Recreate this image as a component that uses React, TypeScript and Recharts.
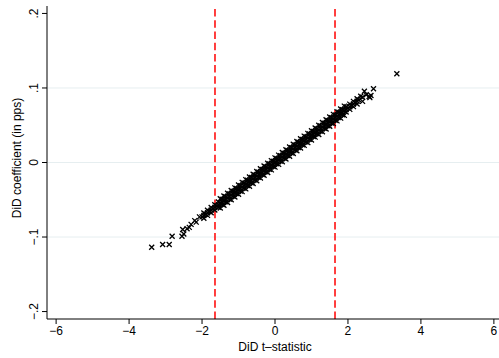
import { ScatterChart, Scatter, XAxis, YAxis, ReferenceLine } from "recharts";

// dense band: centre rows
const midT = [-2.0,-1.9,-1.8,-1.7,-1.6,-1.5,-1.4,-1.3,-1.2,-1.1,-1.0,-0.9,-0.8,-0.7,-0.6,-0.5,-0.4,-0.3,-0.2,-0.1,0.0,0.1,0.2,0.3,0.4,0.5,0.6,0.7,0.8,0.9,1.0,1.1,1.2,1.3,1.4,1.5,1.6,1.7,1.8,1.9,2.0,2.1,2.2,2.3,2.4];
const midB = [-0.0730,-0.0694,-0.0657,-0.0621,-0.0584,-0.0548,-0.0511,-0.0475,-0.0438,-0.0402,-0.0365,-0.0329,-0.0292,-0.0256,-0.0219,-0.0183,-0.0146,-0.0110,-0.0073,-0.0037,0.0000,0.0037,0.0073,0.0110,0.0146,0.0183,0.0219,0.0256,0.0292,0.0329,0.0365,0.0402,0.0438,0.0475,0.0511,0.0548,0.0584,0.0621,0.0657,0.0694,0.0730,0.0767,0.0803,0.0840,0.0876];

// rows in between, upper and lower edges of the band
const edgeT = [-1.95,-1.85,-1.75,-1.65,-1.55,-1.45,-1.35,-1.25,-1.15,-1.05,-0.95,-0.85,-0.75,-0.65,-0.55,-0.45,-0.35,-0.25,-0.15,-0.05,0.05,0.15,0.25,0.35,0.45,0.55,0.65,0.75,0.85,0.95,1.05,1.15,1.25,1.35,1.45,1.55,1.65,1.75,1.85,1.95,2.05,2.15,2.25];
const mid2B = [-0.0712,-0.0675,-0.0639,-0.0602,-0.0566,-0.0529,-0.0493,-0.0456,-0.0420,-0.0383,-0.0347,-0.0310,-0.0274,-0.0237,-0.0201,-0.0164,-0.0128,-0.0091,-0.0055,-0.0018,0.0018,0.0055,0.0091,0.0128,0.0164,0.0201,0.0237,0.0274,0.0310,0.0347,0.0383,0.0420,0.0456,0.0493,0.0529,0.0566,0.0602,0.0639,0.0675,0.0712,0.0748,0.0785,0.0821];
const upB = [-0.0677,-0.0640,-0.0604,-0.0567,-0.0531,-0.0494,-0.0458,-0.0421,-0.0385,-0.0348,-0.0312,-0.0275,-0.0239,-0.0202,-0.0166,-0.0129,-0.0093,-0.0056,-0.0020,0.0017,0.0053,0.0090,0.0126,0.0163,0.0199,0.0236,0.0272,0.0309,0.0345,0.0382,0.0418,0.0455,0.0491,0.0528,0.0564,0.0601,0.0637,0.0674,0.0710,0.0747,0.0783,0.0820,0.0856];
const lowB = [-0.0747,-0.0710,-0.0674,-0.0637,-0.0601,-0.0564,-0.0528,-0.0491,-0.0455,-0.0418,-0.0382,-0.0345,-0.0309,-0.0272,-0.0236,-0.0199,-0.0163,-0.0126,-0.0090,-0.0053,-0.0017,0.0020,0.0056,0.0093,0.0129,0.0166,0.0202,0.0239,0.0275,0.0312,0.0348,0.0385,0.0421,0.0458,0.0494,0.0531,0.0567,0.0604,0.0640,0.0677,0.0713,0.0750,0.0786];

// wider middle part of the band
const outT = [-1.5,-1.4,-1.3,-1.2,-1.1,-1.0,-0.9,-0.8,-0.7,-0.6,-0.5,-0.4,-0.3,-0.2,-0.1,0.0,0.1,0.2,0.3,0.4,0.5,0.6,0.7,0.8,0.9,1.0,1.1,1.2,1.3,1.4,1.5,1.6,1.7,1.8,1.9];
const outUpB = [-0.0486,-0.0449,-0.0413,-0.0376,-0.0340,-0.0303,-0.0267,-0.0230,-0.0194,-0.0157,-0.0121,-0.0084,-0.0048,-0.0011,0.0025,0.0062,0.0099,0.0135,0.0172,0.0208,0.0245,0.0281,0.0318,0.0354,0.0391,0.0427,0.0464,0.0500,0.0537,0.0573,0.0610,0.0646,0.0683,0.0719,0.0756];
const outLowB = [-0.0610,-0.0573,-0.0537,-0.0500,-0.0464,-0.0427,-0.0391,-0.0354,-0.0318,-0.0281,-0.0245,-0.0208,-0.0172,-0.0135,-0.0099,-0.0062,-0.0025,0.0011,0.0048,0.0084,0.0121,0.0157,0.0194,0.0230,0.0267,0.0303,0.0340,0.0376,0.0413,0.0449,0.0486,0.0522,0.0559,0.0595,0.0632];

// sparse points in the tails
const tailT = [-3.38,-3.08,-2.90,-2.82,-2.55,-2.50,-2.53,-2.41,-2.35,-2.30,-2.20,-2.16,-2.07,2.35,2.40,2.45,2.50,2.58,2.60,2.63,2.70,3.34];
const tailB = [-0.1137,-0.1100,-0.1100,-0.0990,-0.0990,-0.0960,-0.0900,-0.0890,-0.0870,-0.0830,-0.0780,-0.0800,-0.0730,0.0890,0.0820,0.0957,0.0910,0.0886,0.0870,0.0900,0.0990,0.1190];

const xTicks = [-6, -4, -2, 0, 2, 4, 6];
const yTicks = [-0.2, -0.1, 0, 0.1, 0.2];
const gridY = [-0.1, 0, 0.1];
const critT = [-1.645, 1.645];

const pairs = (ts: number[], bs: number[]) => ts.map((t, i) => ({ t, b: bs[i] }));
const points = [
  ...pairs(midT, midB),
  ...pairs(edgeT, mid2B),
  ...pairs(edgeT, upB),
  ...pairs(edgeT, lowB),
  ...pairs(outT, outUpB),
  ...pairs(outT, outLowB),
  ...pairs(tailT, tailB),
];

const FONT = "'Liberation Sans', Arial, Helvetica, sans-serif";

const fmt = (v: number) => {
  if (v === 0) return "0";
  const s = Math.abs(v).toFixed(1).replace(/^0/, "");
  return v < 0 ? "\u2212" + s : s;
};

const XMark = (props: any) => {
  const { cx, cy } = props;
  const r = 2.5;
  return (
    <path
      d={`M${cx - r},${cy - r}L${cx + r},${cy + r}M${cx - r},${cy + r}L${cx + r},${cy - r}`}
      stroke="#000" strokeWidth={1.3} fill="none"
    />
  );
};

const YTick = ({ x, y, payload }: any) => (
  <text x={x} y={y} transform={`rotate(-90 ${x} ${y})`} textAnchor="middle"
    fontSize={12} fontFamily={FONT} fill="#000">
    {fmt(payload.value)}
  </text>
);

const XTick = ({ x, y, payload }: any) => (
  <text x={x} y={y} dy="0.71em" textAnchor="middle" fontSize={12} fontFamily={FONT} fill="#000">
    {payload.value < 0 ? "\u2212" + Math.abs(payload.value) : String(payload.value)}
  </text>
);

export default function App() {
  return (
    <div style={{ position: "absolute", left: 0, top: 0, width: 499, height: 358, overflow: "hidden", background: "#fff" }}>
      <ScatterChart width={503} height={358} margin={{ top: 6, right: 0, bottom: 0, left: 0 }}>
        <XAxis
          type="number" dataKey="t" domain={[-6.25, 6.25]} ticks={xTicks} allowDataOverflow
          height={39} tickSize={5} tickMargin={2} tick={<XTick />}
          stroke="#000" tickLine={{ stroke: "#000" }}
          label={() => (
            <text x={275} y={351} textAnchor="middle" fontSize={12} fontFamily={FONT} fill="#000">
              {"DiD t\u2013statistic"}
            </text>
          )}
        />
        <YAxis
          type="number" dataKey="b" domain={[-0.21, 0.21]} ticks={yTicks} allowDataOverflow
          width={47} tickSize={5} tickMargin={4} tick={<YTick />}
          stroke="#000" tickLine={{ stroke: "#000" }}
          label={() => (
            <text x={21} y={158} transform="rotate(-90 21 158)" textAnchor="middle"
              fontSize={12} fontFamily={FONT} fill="#000">
              DiD coefficient (in pps)
            </text>
          )}
        />
        {gridY.map((v) => (
          <ReferenceLine key={v} y={v} stroke="#e6eef0" strokeWidth={1} />
        ))}
        {critT.map((v) => (
          <ReferenceLine key={v} x={v} stroke="#ff0000" strokeWidth={1.5} strokeDasharray="7.5 3.7" />
        ))}
        <Scatter data={points} shape={<XMark />} isAnimationActive={false} />
      </ScatterChart>
    </div>
  );
}
